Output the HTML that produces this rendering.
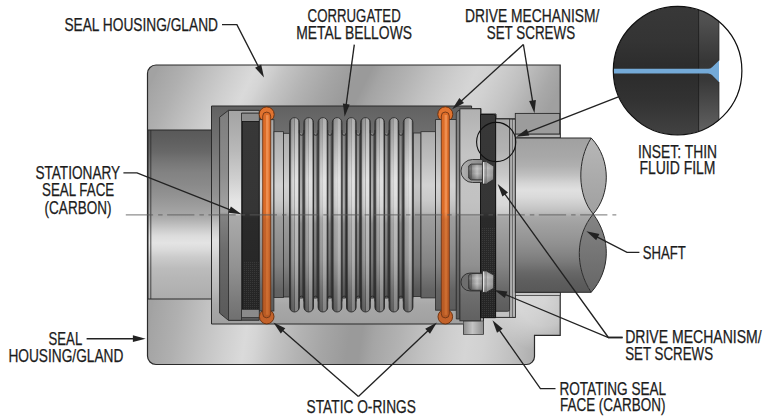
<!DOCTYPE html>
<html lang="en">
<head>
<meta charset="utf-8">
<title>Mechanical seal diagram</title>
<style>
html,body{margin:0;padding:0;background:#fff;}
body{width:768px;height:419px;overflow:hidden;}
svg{display:block;}
</style>
</head>
<body>
<svg width="768" height="419" viewBox="0 0 768 419">
<rect width="768" height="419" fill="#ffffff"/>

<defs>
  <linearGradient id="gHouseT" gradientUnits="userSpaceOnUse" x1="149.0" y1="86.0" x2="478.6" y2="250.8">
    <stop offset="0.0000" stop-color="#a2a2a2"/>
    <stop offset="0.0049" stop-color="#a4a4a4"/>
    <stop offset="0.0655" stop-color="#b0b0b0"/>
    <stop offset="0.1262" stop-color="#c0c0c0"/>
    <stop offset="0.1869" stop-color="#cfcfcf"/>
    <stop offset="0.2379" stop-color="#dadada"/>
    <stop offset="0.2621" stop-color="#d5d5d5"/>
    <stop offset="0.3083" stop-color="#c4c4c4"/>
    <stop offset="0.3689" stop-color="#b3b3b3"/>
    <stop offset="0.4296" stop-color="#a5a5a5"/>
    <stop offset="0.4903" stop-color="#9a9a9a"/>
    <stop offset="0.5194" stop-color="#9a9a9a"/>
    <stop offset="0.5510" stop-color="#a5a5a5"/>
    <stop offset="0.6117" stop-color="#b2b2b2"/>
    <stop offset="0.6723" stop-color="#c1c1c1"/>
    <stop offset="0.7330" stop-color="#cecece"/>
    <stop offset="0.7767" stop-color="#d5d5d5"/>
    <stop offset="0.8180" stop-color="#d1d1d1"/>
    <stop offset="0.8544" stop-color="#c9c9c9"/>
    <stop offset="0.8908" stop-color="#c0c0c0"/>
    <stop offset="0.9272" stop-color="#b4b4b4"/>
    <stop offset="0.9636" stop-color="#a8a8a8"/>
    <stop offset="1.0000" stop-color="#a0a0a0"/>
  </linearGradient>
  <linearGradient id="gHouseB" gradientUnits="userSpaceOnUse" x1="146.0" y1="346.0" x2="548.9" y2="406.4">
    <stop offset="0.0000" stop-color="#a2a2a2"/>
    <stop offset="0.0049" stop-color="#a4a4a4"/>
    <stop offset="0.0655" stop-color="#b0b0b0"/>
    <stop offset="0.1262" stop-color="#c0c0c0"/>
    <stop offset="0.1869" stop-color="#cfcfcf"/>
    <stop offset="0.2379" stop-color="#dadada"/>
    <stop offset="0.2621" stop-color="#d5d5d5"/>
    <stop offset="0.3083" stop-color="#c4c4c4"/>
    <stop offset="0.3689" stop-color="#b3b3b3"/>
    <stop offset="0.4296" stop-color="#a5a5a5"/>
    <stop offset="0.4903" stop-color="#9a9a9a"/>
    <stop offset="0.5194" stop-color="#9a9a9a"/>
    <stop offset="0.5510" stop-color="#a5a5a5"/>
    <stop offset="0.6117" stop-color="#b2b2b2"/>
    <stop offset="0.6723" stop-color="#c1c1c1"/>
    <stop offset="0.7330" stop-color="#cecece"/>
    <stop offset="0.7767" stop-color="#d5d5d5"/>
    <stop offset="0.8180" stop-color="#d1d1d1"/>
    <stop offset="0.8544" stop-color="#c9c9c9"/>
    <stop offset="0.8908" stop-color="#c0c0c0"/>
    <stop offset="0.9272" stop-color="#b4b4b4"/>
    <stop offset="0.9636" stop-color="#a8a8a8"/>
    <stop offset="1.0000" stop-color="#a0a0a0"/>
  </linearGradient>
  <clipPath id="clipTop"><rect x="0" y="0" width="768" height="215"/></clipPath>
  <clipPath id="clipBot"><rect x="0" y="215" width="768" height="204"/></clipPath>
  <linearGradient id="gBore" gradientUnits="userSpaceOnUse" x1="0" y1="130" x2="0" y2="299">
    <stop offset="0.000" stop-color="#585858"/>
    <stop offset="0.012" stop-color="#5a5a5a"/>
    <stop offset="0.071" stop-color="#606060"/>
    <stop offset="0.130" stop-color="#686868"/>
    <stop offset="0.189" stop-color="#767676"/>
    <stop offset="0.249" stop-color="#828282"/>
    <stop offset="0.325" stop-color="#8a8a8a"/>
    <stop offset="0.385" stop-color="#929292"/>
    <stop offset="0.444" stop-color="#9c9c9c"/>
    <stop offset="0.485" stop-color="#a4a4a4"/>
    <stop offset="0.509" stop-color="#a8a8a8"/>
    <stop offset="0.538" stop-color="#b4b4b4"/>
    <stop offset="0.580" stop-color="#c8c8c8"/>
    <stop offset="0.627" stop-color="#dcdcdc"/>
    <stop offset="0.669" stop-color="#e4e4e4"/>
    <stop offset="0.710" stop-color="#dadada"/>
    <stop offset="0.751" stop-color="#cccccc"/>
    <stop offset="0.817" stop-color="#bcbcbc"/>
    <stop offset="0.876" stop-color="#b6b6b6"/>
    <stop offset="0.935" stop-color="#b2b2b2"/>
    <stop offset="1.000" stop-color="#acacac"/>
  </linearGradient>
  <linearGradient id="gCav" gradientUnits="userSpaceOnUse" x1="0" y1="106" x2="0" y2="324">
    <stop offset="0.000" stop-color="#616161"/>
    <stop offset="0.064" stop-color="#686868"/>
    <stop offset="0.202" stop-color="#767676"/>
    <stop offset="0.303" stop-color="#848484"/>
    <stop offset="0.408" stop-color="#929292"/>
    <stop offset="0.486" stop-color="#a2a2a2"/>
    <stop offset="0.505" stop-color="#acacac"/>
    <stop offset="0.560" stop-color="#cccccc"/>
    <stop offset="0.615" stop-color="#e0e0e0"/>
    <stop offset="0.661" stop-color="#dadada"/>
    <stop offset="0.716" stop-color="#cccccc"/>
    <stop offset="0.775" stop-color="#c2c2c2"/>
    <stop offset="0.844" stop-color="#b8b8b8"/>
    <stop offset="0.913" stop-color="#a8a8a8"/>
    <stop offset="1.000" stop-color="#a0a0a0"/>
  </linearGradient>
  <!-- generic metal cylinder, light -->
  <linearGradient id="gMetal" gradientUnits="userSpaceOnUse" x1="0" y1="105" x2="0" y2="325">
    <stop offset="0.000" stop-color="#b0b0b0"/>
    <stop offset="0.032" stop-color="#b2b2b2"/>
    <stop offset="0.136" stop-color="#bcbcbc"/>
    <stop offset="0.227" stop-color="#c4c4c4"/>
    <stop offset="0.432" stop-color="#c2c2c2"/>
    <stop offset="0.491" stop-color="#bebebe"/>
    <stop offset="0.509" stop-color="#a4a4a4"/>
    <stop offset="0.614" stop-color="#9c9c9c"/>
    <stop offset="0.727" stop-color="#909090"/>
    <stop offset="0.864" stop-color="#6e6e6e"/>
    <stop offset="0.968" stop-color="#626262"/>
    <stop offset="1.000" stop-color="#606060"/>
  </linearGradient>
  <linearGradient id="gBel" gradientUnits="userSpaceOnUse" x1="0" y1="117" x2="0" y2="312">
    <stop offset="0.000" stop-color="#989898"/>
    <stop offset="0.067" stop-color="#a4a4a4"/>
    <stop offset="0.128" stop-color="#b2b2b2"/>
    <stop offset="0.246" stop-color="#cccccc"/>
    <stop offset="0.323" stop-color="#dadada"/>
    <stop offset="0.400" stop-color="#d6d6d6"/>
    <stop offset="0.456" stop-color="#cecece"/>
    <stop offset="0.492" stop-color="#c4c4c4"/>
    <stop offset="0.518" stop-color="#aeaeae"/>
    <stop offset="0.549" stop-color="#a8a8a8"/>
    <stop offset="0.656" stop-color="#a0a0a0"/>
    <stop offset="0.733" stop-color="#989898"/>
    <stop offset="0.810" stop-color="#888888"/>
    <stop offset="0.887" stop-color="#747474"/>
    <stop offset="1.000" stop-color="#606060"/>
  </linearGradient>
  <linearGradient id="gMetalD" gradientUnits="userSpaceOnUse" x1="0" y1="110" x2="0" y2="320">
    <stop offset="0.000" stop-color="#7c7c7c"/>
    <stop offset="0.048" stop-color="#808080"/>
    <stop offset="0.286" stop-color="#8c8c8c"/>
    <stop offset="0.486" stop-color="#a4a4a4"/>
    <stop offset="0.505" stop-color="#828282"/>
    <stop offset="0.667" stop-color="#6c6c6c"/>
    <stop offset="0.857" stop-color="#606060"/>
    <stop offset="1.000" stop-color="#5a5a5a"/>
  </linearGradient>
  <linearGradient id="gValley" gradientUnits="userSpaceOnUse" x1="0" y1="130" x2="0" y2="300">
    <stop offset="0.000" stop-color="#565656"/>
    <stop offset="0.294" stop-color="#585858"/>
    <stop offset="0.488" stop-color="#545454"/>
    <stop offset="0.518" stop-color="#4a4a4a"/>
    <stop offset="0.765" stop-color="#404040"/>
    <stop offset="1.000" stop-color="#363636"/>
  </linearGradient>
  <linearGradient id="gShaft" gradientUnits="userSpaceOnUse" x1="0" y1="138" x2="0" y2="292">
    <stop offset="0.000" stop-color="#a0a0a0"/>
    <stop offset="0.058" stop-color="#a4a4a4"/>
    <stop offset="0.123" stop-color="#a8a8a8"/>
    <stop offset="0.182" stop-color="#b0b0b0"/>
    <stop offset="0.240" stop-color="#c0c0c0"/>
    <stop offset="0.292" stop-color="#d4d4d4"/>
    <stop offset="0.338" stop-color="#e0e0e0"/>
    <stop offset="0.383" stop-color="#dadada"/>
    <stop offset="0.435" stop-color="#cccccc"/>
    <stop offset="0.481" stop-color="#bebebe"/>
    <stop offset="0.513" stop-color="#a8a8a8"/>
    <stop offset="0.565" stop-color="#a0a0a0"/>
    <stop offset="0.630" stop-color="#989898"/>
    <stop offset="0.688" stop-color="#909090"/>
    <stop offset="0.747" stop-color="#868686"/>
    <stop offset="0.805" stop-color="#7a7a7a"/>
    <stop offset="0.870" stop-color="#686868"/>
    <stop offset="0.929" stop-color="#5e5e5e"/>
    <stop offset="1.000" stop-color="#585858"/>
  </linearGradient>
  <linearGradient id="gLens1" gradientUnits="userSpaceOnUse" x1="0" y1="140" x2="0" y2="214">
    <stop offset="0.000" stop-color="#b6b6b6"/>
    <stop offset="1.000" stop-color="#a0a0a0"/>
  </linearGradient>
  <linearGradient id="gLens2" gradientUnits="userSpaceOnUse" x1="0" y1="215" x2="0" y2="292">
    <stop offset="0.000" stop-color="#848484"/>
    <stop offset="1.000" stop-color="#666666"/>
  </linearGradient>
  <linearGradient id="gShaftEnd" gradientUnits="userSpaceOnUse" x1="0" y1="138" x2="0" y2="292">
    <stop offset="0" stop-color="#b8b8b8"/>
    <stop offset="0.3" stop-color="#a8a8a8"/>
    <stop offset="0.5" stop-color="#8a8a8a"/>
    <stop offset="0.8" stop-color="#666"/>
    <stop offset="1" stop-color="#5a5a5a"/>
  </linearGradient>
  <linearGradient id="gBlack" gradientUnits="userSpaceOnUse" x1="0" y1="105" x2="0" y2="325">
    <stop offset="0" stop-color="#383838"/>
    <stop offset="0.485" stop-color="#353535"/>
    <stop offset="0.515" stop-color="#2a2a2a"/>
    <stop offset="1" stop-color="#242424"/>
  </linearGradient>
  <linearGradient id="gConv" x1="0" y1="0" x2="1" y2="0">
    <stop offset="0" stop-color="#000" stop-opacity="0.6"/>
    <stop offset="0.1" stop-color="#000" stop-opacity="0.5"/>
    <stop offset="0.2" stop-color="#000" stop-opacity="0.06"/>
    <stop offset="0.44" stop-color="#000" stop-opacity="0.0"/>
    <stop offset="0.5" stop-color="#000" stop-opacity="0.2"/>
    <stop offset="0.56" stop-color="#fff" stop-opacity="0.22"/>
    <stop offset="0.82" stop-color="#fff" stop-opacity="0.22"/>
    <stop offset="0.9" stop-color="#000" stop-opacity="0.3"/>
    <stop offset="1" stop-color="#000" stop-opacity="0.6"/>
  </linearGradient>
  <linearGradient id="gScrew" x1="0" y1="0" x2="0" y2="1">
    <stop offset="0" stop-color="#888"/>
    <stop offset="0.35" stop-color="#f2f2f2"/>
    <stop offset="0.6" stop-color="#d0d0d0"/>
    <stop offset="1" stop-color="#777"/>
  </linearGradient>
  <linearGradient id="gOr" gradientUnits="userSpaceOnUse" x1="0" y1="105" x2="0" y2="325">
    <stop offset="0" stop-color="#dc6c28"/>
    <stop offset="0.485" stop-color="#dc6c28"/>
    <stop offset="0.52" stop-color="#c4622a"/>
    <stop offset="1" stop-color="#b85a24"/>
  </linearGradient>
  <linearGradient id="gOrHi" gradientUnits="userSpaceOnUse" x1="0" y1="105" x2="0" y2="325">
    <stop offset="0" stop-color="#f29456"/>
    <stop offset="0.485" stop-color="#f29456"/>
    <stop offset="0.52" stop-color="#d87838"/>
    <stop offset="1" stop-color="#cc6c30"/>
  </linearGradient>
  <linearGradient id="gMid" gradientUnits="userSpaceOnUse" x1="0" y1="110" x2="0" y2="320">
    <stop offset="0.000" stop-color="#969696"/>
    <stop offset="0.048" stop-color="#9a9a9a"/>
    <stop offset="0.119" stop-color="#a2a2a2"/>
    <stop offset="0.238" stop-color="#b2b2b2"/>
    <stop offset="0.357" stop-color="#c6c6c6"/>
    <stop offset="0.429" stop-color="#bebebe"/>
    <stop offset="0.486" stop-color="#aeaeae"/>
    <stop offset="0.510" stop-color="#929292"/>
    <stop offset="0.619" stop-color="#868686"/>
    <stop offset="0.738" stop-color="#767676"/>
    <stop offset="0.857" stop-color="#585858"/>
    <stop offset="1.000" stop-color="#4c4c4c"/>
  </linearGradient>
  <linearGradient id="gInset" gradientUnits="userSpaceOnUse" x1="0" y1="6" x2="0" y2="135">
    <stop offset="0.000" stop-color="#383838"/>
    <stop offset="0.264" stop-color="#343434"/>
    <stop offset="0.481" stop-color="#2c2c2c"/>
    <stop offset="0.527" stop-color="#2c2c2c"/>
    <stop offset="0.729" stop-color="#323232"/>
    <stop offset="1.000" stop-color="#424242"/>
  </linearGradient>
  <linearGradient id="gInsetBand" gradientUnits="userSpaceOnUse" x1="0" y1="6" x2="0" y2="135">
    <stop offset="0.000" stop-color="#545454"/>
    <stop offset="0.109" stop-color="#505050"/>
    <stop offset="0.434" stop-color="#363636"/>
    <stop offset="0.574" stop-color="#383838"/>
    <stop offset="0.961" stop-color="#606060"/>
  </linearGradient>
  <linearGradient id="gFace" gradientUnits="userSpaceOnUse" x1="0" y1="110" x2="0" y2="320">
    <stop offset="0.000" stop-color="#a4a4a4"/>
    <stop offset="0.048" stop-color="#a8a8a8"/>
    <stop offset="0.190" stop-color="#b8b8b8"/>
    <stop offset="0.333" stop-color="#d0d0d0"/>
    <stop offset="0.429" stop-color="#e4e4e4"/>
    <stop offset="0.486" stop-color="#e8e8e8"/>
    <stop offset="0.505" stop-color="#aaaaaa"/>
    <stop offset="0.619" stop-color="#a0a0a0"/>
    <stop offset="0.762" stop-color="#909090"/>
    <stop offset="0.929" stop-color="#787878"/>
    <stop offset="1.000" stop-color="#707070"/>
  </linearGradient>
  <linearGradient id="gPocket" x1="0" y1="0" x2="1" y2="0">
    <stop offset="0" stop-color="#b4b4b4"/>
    <stop offset="0.5" stop-color="#9a9a9a"/>
    <stop offset="1" stop-color="#888"/>
  </linearGradient>
  <linearGradient id="gScrewB" x1="0" y1="0" x2="1" y2="0">
    <stop offset="0" stop-color="#5e5e5e"/>
    <stop offset="0.18" stop-color="#727272"/>
    <stop offset="0.22" stop-color="#8a8a8a"/>
    <stop offset="0.6" stop-color="#c2c2c2"/>
    <stop offset="1" stop-color="#8e8e8e"/>
  </linearGradient>
  <linearGradient id="gScrewH" x1="0" y1="0" x2="1" y2="0">
    <stop offset="0" stop-color="#c8c8c8"/>
    <stop offset="0.3" stop-color="#a0a0a0"/>
    <stop offset="0.36" stop-color="#b8b8b8"/>
    <stop offset="1" stop-color="#969696"/>
  </linearGradient>
  <linearGradient id="gScrewV" x1="0" y1="0" x2="0" y2="1">
    <stop offset="0" stop-color="#000" stop-opacity="0.18"/>
    <stop offset="0.3" stop-color="#fff" stop-opacity="0.12"/>
    <stop offset="0.6" stop-color="#000" stop-opacity="0.0"/>
    <stop offset="1" stop-color="#000" stop-opacity="0.28"/>
  </linearGradient>
  <linearGradient id="gSleeve" gradientUnits="userSpaceOnUse" x1="0" y1="119" x2="0" y2="311">
    <stop offset="0.000" stop-color="#a8a8a8"/>
    <stop offset="0.161" stop-color="#b2b2b2"/>
    <stop offset="0.292" stop-color="#c8c8c8"/>
    <stop offset="0.370" stop-color="#dedede"/>
    <stop offset="0.448" stop-color="#d8d8d8"/>
    <stop offset="0.490" stop-color="#cccccc"/>
    <stop offset="0.510" stop-color="#a8a8a8"/>
    <stop offset="0.630" stop-color="#989898"/>
    <stop offset="0.760" stop-color="#868686"/>
    <stop offset="0.891" stop-color="#686868"/>
    <stop offset="1.000" stop-color="#5c5c5c"/>
  </linearGradient>
  <linearGradient id="gTab" x1="0" y1="0" x2="1" y2="0">
    <stop offset="0" stop-color="#8c8c8c"/>
    <stop offset="0.45" stop-color="#c4c4c4"/>
    <stop offset="1" stop-color="#8e8e8e"/>
  </linearGradient>
  <pattern id="pDots" width="2" height="2" patternUnits="userSpaceOnUse">
    <rect width="2" height="2" fill="none"/>
    <rect x="0" y="0" width="1" height="1" fill="#555" opacity="0.4"/>
  </pattern>
  <linearGradient id="gStep" gradientUnits="userSpaceOnUse" x1="0" y1="105" x2="0" y2="325">
    <stop offset="0" stop-color="#8c8c8c"/>
    <stop offset="0.5" stop-color="#8c8c8c"/>
    <stop offset="1" stop-color="#8a8a8a"/>
  </linearGradient>
  <linearGradient id="gStripe" gradientUnits="userSpaceOnUse" x1="0" y1="130" x2="0" y2="300">
    <stop offset="0" stop-color="#848484"/>
    <stop offset="0.07" stop-color="#8a8a8a"/>
    <stop offset="0.3" stop-color="#a8a8a8"/>
    <stop offset="0.45" stop-color="#b0b0b0"/>
    <stop offset="0.5" stop-color="#a4a4a4"/>
    <stop offset="0.55" stop-color="#888888"/>
    <stop offset="0.76" stop-color="#787878"/>
    <stop offset="0.94" stop-color="#5a5a5a"/>
    <stop offset="1" stop-color="#545454"/>
  </linearGradient>
  <linearGradient id="gCyl" gradientUnits="userSpaceOnUse" x1="0" y1="110" x2="0" y2="320">
    <stop offset="0.000" stop-color="#a2a2a2"/>
    <stop offset="0.048" stop-color="#a6a6a6"/>
    <stop offset="0.119" stop-color="#aeaeae"/>
    <stop offset="0.238" stop-color="#bebebe"/>
    <stop offset="0.357" stop-color="#d2d2d2"/>
    <stop offset="0.429" stop-color="#cacaca"/>
    <stop offset="0.486" stop-color="#bababa"/>
    <stop offset="0.510" stop-color="#9e9e9e"/>
    <stop offset="0.619" stop-color="#929292"/>
    <stop offset="0.738" stop-color="#828282"/>
    <stop offset="0.857" stop-color="#646464"/>
    <stop offset="1.000" stop-color="#585858"/>
  </linearGradient>
  <radialGradient id="gHL1" gradientUnits="userSpaceOnUse" cx="545" cy="300" r="52">
    <stop offset="0" stop-color="#fff" stop-opacity="0.5"/>
    <stop offset="0.5" stop-color="#fff" stop-opacity="0.38"/>
    <stop offset="1" stop-color="#fff" stop-opacity="0"/>
  </radialGradient>
  <radialGradient id="gHL2" gradientUnits="userSpaceOnUse" cx="185" cy="135" r="48">
    <stop offset="0" stop-color="#fff" stop-opacity="0.3"/>
    <stop offset="0.5" stop-color="#fff" stop-opacity="0.22"/>
    <stop offset="1" stop-color="#fff" stop-opacity="0"/>
  </radialGradient>
  <clipPath id="clipHouse"><path d="M156,65 H560.2 V335.3 H534.5 V356.5 a8,8 0 0 1 -8,8 H156 a8.5,8.5 0 0 1 -8.5,-8.5 V73.5 a8.5,8.5 0 0 1 8.5,-8.5 Z"/></clipPath>
  <clipPath id="clipInset"><circle cx="677.6" cy="70.7" r="64.3"/></clipPath>
</defs>

<path d="M156,65 H560.2 V335.3 H534.5 V356.5 a8,8 0 0 1 -8,8 H156 a8.5,8.5 0 0 1 -8.5,-8.5 V73.5 a8.5,8.5 0 0 1 8.5,-8.5 Z" fill="url(#gHouseT)" clip-path="url(#clipTop)"/>
<path d="M156,65 H560.2 V335.3 H534.5 V356.5 a8,8 0 0 1 -8,8 H156 a8.5,8.5 0 0 1 -8.5,-8.5 V73.5 a8.5,8.5 0 0 1 8.5,-8.5 Z" fill="url(#gHouseB)" clip-path="url(#clipBot)"/>
<g clip-path="url(#clipHouse)"><rect x="485" y="293" width="80" height="75" fill="url(#gHL1)"/></g>
<path d="M156,65 H560.2 V335.3 H534.5 V356.5 a8,8 0 0 1 -8,8 H156 a8.5,8.5 0 0 1 -8.5,-8.5 V73.5 a8.5,8.5 0 0 1 8.5,-8.5 Z" fill="none" stroke="#2a2a2a" stroke-width="1.2"/>
<rect x="148" y="130" width="63.5" height="169" fill="url(#gBore)" stroke="#2a2a2a" stroke-width="1"/>
<line x1="150.8" y1="130" x2="150.8" y2="299" stroke="#2a2a2a" stroke-width="0.8"/>
<path d="M211.5,106 H471.6 V108.5 H481 V114 H496 V118.8 H515.3 V317.5 H483.5 V334 H463.6 V324 H211.5 Z" fill="url(#gCav)" stroke="#2a2a2a" stroke-width="1"/>
<path d="M219.6,117.2 L228.4,110.4 H259.2 V320.3 H228.4 L219.6,313.1 Z" fill="url(#gMetalD)" stroke="#2a2a2a" stroke-width="0.9"/>
<rect x="241.5" y="113" width="17.7" height="204.39999999999998" fill="url(#gStep)" stroke="#2a2a2a" stroke-width="0.7"/>
<path d="M228.5,110.4 H259.2 V113 H241.5 V320.3 H228.5 Z" fill="url(#gFace)" stroke="#2a2a2a" stroke-width="0.8"/>
<rect x="242.4" y="121.4" width="16.8" height="187.79999999999998" fill="url(#gBlack)" stroke="#111" stroke-width="0.8"/>
<rect x="243" y="262" width="15.8" height="46.80000000000001" fill="url(#pDots)"/>
<circle cx="266.7" cy="114.4" r="7.5" fill="#e27430" stroke="#6a2c08" stroke-width="0.9"/>
<circle cx="266.7" cy="316.6" r="7.3" fill="#c4622a" stroke="#6a2c08" stroke-width="0.9"/>
<rect x="259.4" y="119.7" width="14.5" height="191.3" fill="url(#gCyl)" stroke="#2a2a2a" stroke-width="0.8"/>
<path d="M262.7,313.8 V116.10000000000001 a4.0,4.0 0 0 1 8.0,0 V313.8 a4.0,4.0 0 0 1 -8.0,0 Z" fill="url(#gOr)" stroke="#6e3616" stroke-width="0.9"/>
<rect x="266.0" y="115.10000000000001" width="2.6" height="199.7" fill="url(#gOrHi)" opacity="0.85"/>
<rect x="274" y="131.7" width="9.4" height="165.90000000000003" fill="url(#gCyl)" stroke="#2a2a2a" stroke-width="0.8"/>
<rect x="283.4" y="133.3" width="6.2" height="163.7" fill="url(#gCyl)" stroke="#2a2a2a" stroke-width="0.8"/>
<rect x="289.5" y="133" width="123.80000000000001" height="165.39999999999998" fill="url(#gValley)"/>
<rect x="299.90" y="133" width="2.3" height="165.39999999999998" fill="url(#gStripe)"/>
<rect x="314.10" y="133" width="2.3" height="165.39999999999998" fill="url(#gStripe)"/>
<rect x="328.30" y="133" width="2.3" height="165.39999999999998" fill="url(#gStripe)"/>
<rect x="342.50" y="133" width="2.3" height="165.39999999999998" fill="url(#gStripe)"/>
<rect x="356.70" y="133" width="2.3" height="165.39999999999998" fill="url(#gStripe)"/>
<rect x="370.90" y="133" width="2.3" height="165.39999999999998" fill="url(#gStripe)"/>
<rect x="385.10" y="133" width="2.3" height="165.39999999999998" fill="url(#gStripe)"/>
<rect x="399.30" y="133" width="2.3" height="165.39999999999998" fill="url(#gStripe)"/>
<path d="M289.70,136 V122.40 a4.8,4.8 0 0 1 9.6,0 V307.20 a4.8,4.8 0 0 1 -9.6,0 Z" fill="url(#gBel)"/>
<path d="M289.70,136 V122.40 a4.8,4.8 0 0 1 9.6,0 V307.20 a4.8,4.8 0 0 1 -9.6,0 Z" fill="url(#gConv)" stroke="#2a2a2a" stroke-width="0.9"/>
<path d="M303.90,136 V122.40 a4.8,4.8 0 0 1 9.6,0 V307.20 a4.8,4.8 0 0 1 -9.6,0 Z" fill="url(#gBel)"/>
<path d="M303.90,136 V122.40 a4.8,4.8 0 0 1 9.6,0 V307.20 a4.8,4.8 0 0 1 -9.6,0 Z" fill="url(#gConv)" stroke="#2a2a2a" stroke-width="0.9"/>
<path d="M318.10,136 V122.40 a4.8,4.8 0 0 1 9.6,0 V307.20 a4.8,4.8 0 0 1 -9.6,0 Z" fill="url(#gBel)"/>
<path d="M318.10,136 V122.40 a4.8,4.8 0 0 1 9.6,0 V307.20 a4.8,4.8 0 0 1 -9.6,0 Z" fill="url(#gConv)" stroke="#2a2a2a" stroke-width="0.9"/>
<path d="M332.30,136 V122.40 a4.8,4.8 0 0 1 9.6,0 V307.20 a4.8,4.8 0 0 1 -9.6,0 Z" fill="url(#gBel)"/>
<path d="M332.30,136 V122.40 a4.8,4.8 0 0 1 9.6,0 V307.20 a4.8,4.8 0 0 1 -9.6,0 Z" fill="url(#gConv)" stroke="#2a2a2a" stroke-width="0.9"/>
<path d="M346.50,136 V122.40 a4.8,4.8 0 0 1 9.6,0 V307.20 a4.8,4.8 0 0 1 -9.6,0 Z" fill="url(#gBel)"/>
<path d="M346.50,136 V122.40 a4.8,4.8 0 0 1 9.6,0 V307.20 a4.8,4.8 0 0 1 -9.6,0 Z" fill="url(#gConv)" stroke="#2a2a2a" stroke-width="0.9"/>
<path d="M360.70,136 V122.40 a4.8,4.8 0 0 1 9.6,0 V307.20 a4.8,4.8 0 0 1 -9.6,0 Z" fill="url(#gBel)"/>
<path d="M360.70,136 V122.40 a4.8,4.8 0 0 1 9.6,0 V307.20 a4.8,4.8 0 0 1 -9.6,0 Z" fill="url(#gConv)" stroke="#2a2a2a" stroke-width="0.9"/>
<path d="M374.90,136 V122.40 a4.8,4.8 0 0 1 9.6,0 V307.20 a4.8,4.8 0 0 1 -9.6,0 Z" fill="url(#gBel)"/>
<path d="M374.90,136 V122.40 a4.8,4.8 0 0 1 9.6,0 V307.20 a4.8,4.8 0 0 1 -9.6,0 Z" fill="url(#gConv)" stroke="#2a2a2a" stroke-width="0.9"/>
<path d="M389.10,136 V122.40 a4.8,4.8 0 0 1 9.6,0 V307.20 a4.8,4.8 0 0 1 -9.6,0 Z" fill="url(#gBel)"/>
<path d="M389.10,136 V122.40 a4.8,4.8 0 0 1 9.6,0 V307.20 a4.8,4.8 0 0 1 -9.6,0 Z" fill="url(#gConv)" stroke="#2a2a2a" stroke-width="0.9"/>
<path d="M403.30,136 V122.40 a4.8,4.8 0 0 1 9.6,0 V307.20 a4.8,4.8 0 0 1 -9.6,0 Z" fill="url(#gBel)"/>
<path d="M403.30,136 V122.40 a4.8,4.8 0 0 1 9.6,0 V307.20 a4.8,4.8 0 0 1 -9.6,0 Z" fill="url(#gConv)" stroke="#2a2a2a" stroke-width="0.9"/>
<path d="M299.30,130 V133 a2.30,2.30 0 0 0 4.60,0 V130" fill="none" stroke="#2a2a2a" stroke-width="0.9"/>
<path d="M299.30,301.4 V298.4 a2.30,2.30 0 0 1 4.60,0 V301.4" fill="none" stroke="#2a2a2a" stroke-width="0.9"/>
<path d="M313.50,130 V133 a2.30,2.30 0 0 0 4.60,0 V130" fill="none" stroke="#2a2a2a" stroke-width="0.9"/>
<path d="M313.50,301.4 V298.4 a2.30,2.30 0 0 1 4.60,0 V301.4" fill="none" stroke="#2a2a2a" stroke-width="0.9"/>
<path d="M327.70,130 V133 a2.30,2.30 0 0 0 4.60,0 V130" fill="none" stroke="#2a2a2a" stroke-width="0.9"/>
<path d="M327.70,301.4 V298.4 a2.30,2.30 0 0 1 4.60,0 V301.4" fill="none" stroke="#2a2a2a" stroke-width="0.9"/>
<path d="M341.90,130 V133 a2.30,2.30 0 0 0 4.60,0 V130" fill="none" stroke="#2a2a2a" stroke-width="0.9"/>
<path d="M341.90,301.4 V298.4 a2.30,2.30 0 0 1 4.60,0 V301.4" fill="none" stroke="#2a2a2a" stroke-width="0.9"/>
<path d="M356.10,130 V133 a2.30,2.30 0 0 0 4.60,0 V130" fill="none" stroke="#2a2a2a" stroke-width="0.9"/>
<path d="M356.10,301.4 V298.4 a2.30,2.30 0 0 1 4.60,0 V301.4" fill="none" stroke="#2a2a2a" stroke-width="0.9"/>
<path d="M370.30,130 V133 a2.30,2.30 0 0 0 4.60,0 V130" fill="none" stroke="#2a2a2a" stroke-width="0.9"/>
<path d="M370.30,301.4 V298.4 a2.30,2.30 0 0 1 4.60,0 V301.4" fill="none" stroke="#2a2a2a" stroke-width="0.9"/>
<path d="M384.50,130 V133 a2.30,2.30 0 0 0 4.60,0 V130" fill="none" stroke="#2a2a2a" stroke-width="0.9"/>
<path d="M384.50,301.4 V298.4 a2.30,2.30 0 0 1 4.60,0 V301.4" fill="none" stroke="#2a2a2a" stroke-width="0.9"/>
<path d="M398.70,130 V133 a2.30,2.30 0 0 0 4.60,0 V130" fill="none" stroke="#2a2a2a" stroke-width="0.9"/>
<path d="M398.70,301.4 V298.4 a2.30,2.30 0 0 1 4.60,0 V301.4" fill="none" stroke="#2a2a2a" stroke-width="0.9"/>
<rect x="413.3" y="133" width="7.7" height="163.60000000000002" fill="url(#gMid)" stroke="#2a2a2a" stroke-width="0.8"/>
<rect x="421" y="131.7" width="14.6" height="166.20000000000005" fill="url(#gCyl)" stroke="#2a2a2a" stroke-width="0.8"/>
<circle cx="445.3" cy="114.3" r="7.5" fill="#e27430" stroke="#6a2c08" stroke-width="0.9"/>
<circle cx="445.3" cy="316.7" r="7.3" fill="#c4622a" stroke="#6a2c08" stroke-width="0.9"/>
<rect x="435.6" y="119.6" width="20.69999999999999" height="190.6" fill="url(#gCyl)" stroke="#2a2a2a" stroke-width="0.8"/>
<path d="M441.3,313.9 V116.0 a4.0,4.0 0 0 1 8.0,0 V313.9 a4.0,4.0 0 0 1 -8.0,0 Z" fill="url(#gOr)" stroke="#6e3616" stroke-width="0.9"/>
<rect x="444.6" y="115.0" width="2.6" height="199.89999999999998" fill="url(#gOrHi)" opacity="0.85"/>
<path d="M456.3,113 L458,110.6 H460 V319 H456.3 Z" fill="url(#gMetalD)" stroke="#2a2a2a" stroke-width="0.8"/>
<rect x="463.6" y="321" width="19.8" height="13.6" fill="url(#gTab)" stroke="#444" stroke-width="0.7"/>
<rect x="459.9" y="108.8" width="20.6" height="212.0" fill="url(#gMetal)" stroke="#2a2a2a" stroke-width="0.9"/>
<rect x="495.6" y="119.2" width="19.7" height="198.10000000000002" fill="#c2c2c2" stroke="#2a2a2a" stroke-width="0.8"/>
<rect x="509.6" y="119.2" width="3.2" height="198.10000000000002" fill="#adadad" stroke="#2a2a2a" stroke-width="0.6"/>
<path d="M495.6,119 H509.6 V309.5 a1.8,1.8 0 0 1 -1.8,1.8 H495.6 Z" fill="url(#gSleeve)" stroke="#2a2a2a" stroke-width="0.8"/>
<path d="M480.5,114.5 H493.6 a2,2 0 0 1 2,2 V317.7 H480.5 Z" fill="url(#gBlack)" stroke="#111" stroke-width="0.9"/>
<rect x="481.2" y="228" width="13.6" height="89" fill="url(#pDots)"/>
<path d="M482.7,159.5 H472.5 a11.5,11.5 0 0 0 0,23.0 H482.7 Z" fill="url(#gPocket)" stroke="#2a2a2a" stroke-width="0.9"/>
<path d="M482.7,164.1 H471.2 L468.7,165.9 V178.1 L471.2,179.9 H482.7 Z" fill="url(#gScrewB)" stroke="#2a2a2a" stroke-width="0.8"/>
<path d="M482.7,164.1 H471.2 L468.7,165.9 V178.1 L471.2,179.9 H482.7 Z" fill="url(#gScrewV)"/>
<line x1="471.4" y1="164.1" x2="471.4" y2="179.9" stroke="#555" stroke-width="0.6"/>
<path d="M482.6,161.5 H486.2 L493.7,166.20000000000002 V179.4 L486.2,184.10000000000002 H482.6 Z" fill="url(#gScrewH)" stroke="#2a2a2a" stroke-width="0.8"/>
<path d="M482.6,161.5 H486.2 L493.7,166.20000000000002 V179.4 L486.2,184.10000000000002 H482.6 Z" fill="url(#gScrewV)"/>
<line x1="486.2" y1="161.5" x2="486.2" y2="184.10000000000002" stroke="#666" stroke-width="0.6"/>
<line x1="483.5" y1="162.1" x2="483.5" y2="183.50000000000003" stroke="#e8e8e8" stroke-width="0.9"/>
<path d="M482.7,273.1 H469.9 a8.9,8.9 0 0 0 0,17.8 H482.7 Z" fill="#6e6e6e" stroke="#2a2a2a" stroke-width="0.9"/>
<path d="M482.7,273.5 H471.2 L468.7,275.3 V288.49999999999994 L471.2,290.29999999999995 H482.7 Z" fill="url(#gScrewB)" stroke="#2a2a2a" stroke-width="0.8"/>
<path d="M482.7,273.5 H471.2 L468.7,275.3 V288.49999999999994 L471.2,290.29999999999995 H482.7 Z" fill="url(#gScrewV)"/>
<line x1="471.4" y1="273.5" x2="471.4" y2="290.29999999999995" stroke="#555" stroke-width="0.6"/>
<path d="M482.6,270.95 H486.2 L493.7,275.09999999999997 V288.3 L486.2,292.45 H482.6 Z" fill="url(#gScrewH)" stroke="#2a2a2a" stroke-width="0.8"/>
<path d="M482.6,270.95 H486.2 L493.7,275.09999999999997 V288.3 L486.2,292.45 H482.6 Z" fill="url(#gScrewV)"/>
<line x1="486.2" y1="270.95" x2="486.2" y2="292.45" stroke="#666" stroke-width="0.6"/>
<line x1="483.5" y1="271.55" x2="483.5" y2="291.84999999999997" stroke="#e8e8e8" stroke-width="0.9"/>
<rect x="515.3" y="134" width="44.9" height="3.8" fill="#b4b4b4" stroke="#2a2a2a" stroke-width="0.7"/>
<rect x="515.3" y="113.4" width="44.4" height="20.6" fill="#9c9c9c" stroke="#2a2a2a" stroke-width="0.9"/>
<rect x="515.3" y="292.5" width="44.9" height="3" fill="#c8c8c8" stroke="#2a2a2a" stroke-width="0.7"/>
<path d="M515.3,138 H591.2 C612,160 610,195 593.2,214 C575,236 575,268 591.2,292.3 H515.3 Z" fill="url(#gShaft)" stroke="none"/>
<path d="M591.2,138 C612,160 610,195 593.2,214 C577,195 577,160 591.2,138 Z" fill="url(#gLens1)" stroke="#2a2a2a" stroke-width="1"/>
<path d="M593.2,214 C611,238 611,270 591.2,292.3 C575,268 575,236 593.2,214 Z" fill="url(#gLens2)" stroke="#2a2a2a" stroke-width="1"/>
<path d="M515.3,138 H591.2 M515.3,292.3 H591.2 M515.3,138 V292.3" fill="none" stroke="#2a2a2a" stroke-width="1"/>
<line x1="125.8" y1="214.9" x2="616.3" y2="214.9" stroke="#5a5a5a" stroke-width="0.85" stroke-dasharray="27.3 5 4.5 4.5"/>
<circle cx="496.2" cy="142" r="19.6" fill="none" stroke="#111" stroke-width="1.1"/>
<g clip-path="url(#clipInset)">
<rect x="610" y="0" width="140" height="140" fill="url(#gInset)"/>
<rect x="698.6" y="0" width="20.4" height="140" fill="url(#gInsetBand)"/>
<line x1="698.6" y1="0" x2="698.6" y2="140" stroke="#1a1a1a" stroke-width="0.8"/>
<rect x="719" y="0" width="40" height="140" fill="#fff"/>
<path d="M610,68.7 H708 Q710.5,68.7 712,67.2 L719,60.5 V82 L712,75 Q710.5,73.5 708,73.5 H610 Z" fill="#74aad8"/>
<line x1="719" y1="0" x2="719" y2="60.5" stroke="#222" stroke-width="0.7"/>
<line x1="719" y1="82" x2="719" y2="140" stroke="#222" stroke-width="0.7"/>
</g>
<circle cx="677.6" cy="70.7" r="64.3" fill="none" stroke="#111" stroke-width="1.2"/>
<polyline points="222.0,24.6 236.9,24.6 259.1,68.0" fill="none" stroke="#222" stroke-width="1.35" stroke-linejoin="miter"/>
<polygon points="264.0,77.6 255.1,67.8 261.2,64.6" fill="#222"/>
<polyline points="354.3,44.6 346.0,106.0" fill="none" stroke="#222" stroke-width="1.35" stroke-linejoin="miter"/>
<polygon points="344.6,116.7 342.9,103.6 349.7,104.5" fill="#222"/>
<polyline points="523.4,44.5 460.2,101.9" fill="none" stroke="#222" stroke-width="1.35" stroke-linejoin="miter"/>
<polygon points="452.2,109.2 459.4,98.0 464.0,103.1" fill="#222"/>
<polyline points="523.4,44.5 532.8,102.5" fill="none" stroke="#222" stroke-width="1.35" stroke-linejoin="miter"/>
<polygon points="534.5,113.2 529.1,101.1 535.9,100.0" fill="#222"/>
<polyline points="619.0,96.7 526.2,132.9" fill="none" stroke="#222" stroke-width="1.35" stroke-linejoin="miter"/>
<polygon points="516.1,136.8 526.8,128.9 529.3,135.4" fill="#222"/>
<polyline points="639.4,252.3 627.0,252.3 596.0,236.3" fill="none" stroke="#222" stroke-width="1.35" stroke-linejoin="miter"/>
<polygon points="586.4,231.3 599.4,234.1 596.2,240.2" fill="#222"/>
<polyline points="622.6,337.5 608.4,337.5 504.0,192.9" fill="none" stroke="#222" stroke-width="1.35" stroke-linejoin="miter"/>
<polygon points="497.7,184.1 508.0,192.5 502.4,196.5" fill="#222"/>
<polyline points="622.6,337.5 608.4,337.5 504.3,294.1" fill="none" stroke="#222" stroke-width="1.35" stroke-linejoin="miter"/>
<polygon points="494.3,289.9 507.4,291.6 504.8,298.0" fill="#222"/>
<polyline points="555.5,388.6 540.4,388.6 498.7,329.1" fill="none" stroke="#222" stroke-width="1.35" stroke-linejoin="miter"/>
<polygon points="492.5,320.3 502.7,328.8 497.0,332.8" fill="#222"/>
<polyline points="358.4,396.4 281.5,329.5" fill="none" stroke="#222" stroke-width="1.35" stroke-linejoin="miter"/>
<polygon points="273.4,322.4 285.3,328.2 280.8,333.4" fill="#222"/>
<polyline points="358.4,396.4 429.0,329.8" fill="none" stroke="#222" stroke-width="1.35" stroke-linejoin="miter"/>
<polygon points="436.9,322.4 430.0,333.7 425.2,328.7" fill="#222"/>
<polyline points="86.6,338.7 134.9,338.7" fill="none" stroke="#222" stroke-width="1.35" stroke-linejoin="miter"/>
<polygon points="145.7,338.7 132.9,342.1 132.9,335.2" fill="#222"/>
<polyline points="123.4,172.8 137.0,172.8 231.5,210.3" fill="none" stroke="#222" stroke-width="1.35" stroke-linejoin="miter"/>
<polygon points="241.5,214.3 228.3,212.8 230.9,206.4" fill="#222"/>
<g font-family="'Liberation Sans', sans-serif" fill="#1c1c1c" stroke="#1c1c1c" stroke-width="0.25">
<text x="64.4" y="31" font-size="17.6" textLength="153.6" lengthAdjust="spacingAndGlyphs">SEAL HOUSING/GLAND</text>
<text x="307.6" y="22.3" font-size="17.6" textLength="93.1" lengthAdjust="spacingAndGlyphs">CORRUGATED</text>
<text x="296.3" y="39.4" font-size="17.6" textLength="115.7" lengthAdjust="spacingAndGlyphs">METAL BELLOWS</text>
<text x="465" y="22.3" font-size="17.6" textLength="134.3" lengthAdjust="spacingAndGlyphs">DRIVE MECHANISM/</text>
<text x="486.7" y="39.4" font-size="17.6" textLength="88.5" lengthAdjust="spacingAndGlyphs">SET SCREWS</text>
<text x="638" y="157.8" font-size="17.6" textLength="79.0" lengthAdjust="spacingAndGlyphs">INSET: THIN</text>
<text x="639.4" y="174.3" font-size="17.6" textLength="76.1" lengthAdjust="spacingAndGlyphs">FLUID FILM</text>
<text x="642.7" y="258.7" font-size="17.6" textLength="43.1" lengthAdjust="spacingAndGlyphs">SHAFT</text>
<text x="625.2" y="343.1" font-size="17.6" textLength="136.5" lengthAdjust="spacingAndGlyphs">DRIVE MECHANISM/</text>
<text x="625.2" y="360.2" font-size="17.6" textLength="87.9" lengthAdjust="spacingAndGlyphs">SET SCREWS</text>
<text x="559.4" y="394.6" font-size="17.6" textLength="106.8" lengthAdjust="spacingAndGlyphs">ROTATING SEAL</text>
<text x="560" y="411.3" font-size="17.6" textLength="105.4" lengthAdjust="spacingAndGlyphs">FACE (CARBON)</text>
<text x="306.6" y="412.7" font-size="17.6" textLength="109.3" lengthAdjust="spacingAndGlyphs">STATIC O-RINGS</text>
<text x="48.6" y="345" font-size="17.6" textLength="33.6" lengthAdjust="spacingAndGlyphs">SEAL</text>
<text x="8.4" y="362.3" font-size="17.6" textLength="115.0" lengthAdjust="spacingAndGlyphs">HOUSING/GLAND</text>
<text x="35.4" y="178.8" font-size="17.6" textLength="84.8" lengthAdjust="spacingAndGlyphs">STATIONARY</text>
<text x="42" y="196.4" font-size="17.6" textLength="72.2" lengthAdjust="spacingAndGlyphs">SEAL FACE</text>
<text x="44.6" y="213.5" font-size="17.6" textLength="66.9" lengthAdjust="spacingAndGlyphs">(CARBON)</text>
</g>
</svg>
</body>
</html>
